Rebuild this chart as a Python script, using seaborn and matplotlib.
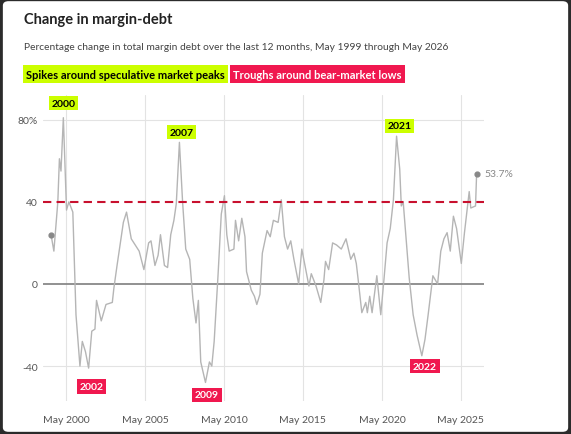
import matplotlib
matplotlib.use("Agg")
import matplotlib.pyplot as plt
import seaborn as sns
import pandas as pd
from matplotlib.patches import FancyBboxPatch

sns.set_theme(style="white")
plt.rcParams['font.family'] = ['Lato', 'DejaVu Sans']

years = [1999.42,1999.6,1999.85,1999.95,2000.05,2000.2,2000.4,2000.55,2000.8,2001.0,2001.25,2001.4,2001.6,2001.8,
 2002.0,2002.2,2002.3,2002.6,2002.9,2003.3,2003.4,2003.6,2004.0,2004.2,2004.5,2005.0,2005.3,2005.6,2005.75,2006.0,
 2006.2,2006.35,2006.6,2006.8,2007.0,2007.2,2007.35,2007.55,2007.75,2007.95,2008.2,2008.4,2008.6,2008.75,2008.9,
 2009.2,2009.45,2009.6,2009.75,2010.0,2010.2,2010.4,2010.55,2010.7,2011.0,2011.1,2011.3,2011.5,2011.7,2011.8,
 2012.1,2012.3,2012.45,2012.65,2012.8,2013.1,2013.3,2013.5,2013.8,2014.0,2014.2,2014.4,2014.6,2014.8,2015.1,
 2015.3,2015.5,2015.75,2015.9,2016.2,2016.5,2016.7,2016.8,2017.0,2017.25,2017.5,2017.8,2018.1,2018.4,2018.6,
 2018.75,2018.9,2019.1,2019.35,2019.45,2019.6,2019.75,2020.05,2020.3,2020.5,2020.7,2020.9,2021.1,2021.3,2021.5,
 2021.6,2021.72,2021.95,2022.1,2022.35,2022.6,2022.9,2023.1,2023.3,2023.6,2023.9,2024.1,2024.3,2024.5,2024.7,
 2024.9,2025.1,2025.4,2025.6,2025.9,2026.0,2026.3,2026.37]
values = [24,16,40,61,55,81,36,40,35,-15,-40,-28,-33,-41,
 -23,-22,-8,-18,-10,-9,-2,9,30,35,22,16,7,20,21,9,
 14,24,9,8,24,31,39,69,40,17,12,-7,-19,-8,-38,
 -48,-38,-40,-28,5,34,43,24,16,17,31,21,32,23,6,
 -3,-6,-10,-5,15,26,23,31,30,41,23,17,21,12,0,
 17,9,-1,5,-1,-9,2,11,7,20,19,17,22,12,15,
 10,0,-14,-9,-14,-6,-14,4,-15,2,20,27,41,72,56,
 38,40,18,3,-15,-25,-35,-27,-15,4,0,16,22,25,16,
 33,27,10,25,45,37,38,53.7]
tick_years = [2000,2005,2010,2015,2020,2025]
tick_labels = ["May 2000","May 2005","May 2010","May 2015","May 2020","May 2025"]
peak_labels = ["2000","2007","2021"]
peak_pos = [(2000.2,88),(2007.7,74),(2021.5,77)]
trough_labels = ["2002","2009","2022"]
trough_pos = [(2002.0,-50),(2009.3,-54),(2023.1,-40)]

df = pd.DataFrame({"year": years, "value": values})

fig = plt.figure(figsize=(5.71,4.35), dpi=100)
fig.patch.set_facecolor("#2b2b2b")
card = FancyBboxPatch((0.005,0.005),0.99,0.99, boxstyle="round,pad=0,rounding_size=0.01",
                      transform=fig.transFigure, facecolor="white", edgecolor="none", zorder=-10)
fig.patches.append(card)
ax = fig.add_axes([0.075,0.076,0.773,0.703])
ax.set_facecolor("none")

for t in tick_years:
    ax.axvline(t+0.37, color="#e3e3e3", lw=0.8, zorder=0)
for yv in [80,-40]:
    ax.axhline(yv, color="#e3e3e3", lw=0.8, zorder=0)
ax.axhline(0, color="#888888", lw=1.3, zorder=1)
ax.axhline(40, color="#c8102e", lw=1.5, ls=(0,(4,2.5)), zorder=3)

sns.lineplot(data=df, x="year", y="value", ax=ax, color="#b5b5b5", lw=1, zorder=2)
ax.scatter([years[0],years[-1]],[values[0],values[-1]], s=12, color="#888888", zorder=4)
ax.text(years[-1]+0.5, values[-1], f"{values[-1]}%", fontsize=7.5, color="#888888", va="center")

for lab,(x,y) in zip(peak_labels,peak_pos):
    ax.text(x,y,lab,fontsize=7.5,fontweight="bold",color="black",ha="center",va="center",
            bbox=dict(boxstyle="square,pad=0.25",fc="#ccff00",ec="none"))
for lab,(x,y) in zip(trough_labels,trough_pos):
    ax.text(x,y,lab,fontsize=7.5,fontweight="bold",color="white",ha="center",va="center",
            bbox=dict(boxstyle="square,pad=0.25",fc="#f0184f",ec="none"))

ax.set_xlim(1998.9, 2026.85)
ax.set_ylim(-57, 92)
ax.set_xticks([t+0.37 for t in tick_years])
ax.set_xticklabels(tick_labels)
ax.set_yticks([80,40,0,-40])
ax.set_yticklabels(["80%","40","0","-40"])
ax.tick_params(axis="both", labelsize=7.5, colors="#555555", length=0)
ax.tick_params(axis="x", pad=10)
for s in ax.spines.values():
    s.set_visible(False)
ax.set_xlabel(""); ax.set_ylabel("")

fig.text(0.042,0.955,"Change in margin-debt",fontsize=10.5,fontweight="bold",color="#222222",va="center")
fig.text(0.042,0.89,"Percentage change in total margin debt over the last 12 months, May 1999 through May 2026",
         fontsize=7.4,color="#444444",va="center")
fig.text(0.046,0.827,"Spikes around speculative market peaks",fontsize=8,fontweight="bold",color="black",va="center",
         bbox=dict(boxstyle="square,pad=0.3",fc="#ccff00",ec="none"))
fig.text(0.408,0.827,"Troughs around bear-market lows",fontsize=8,fontweight="bold",color="white",va="center",
         bbox=dict(boxstyle="square,pad=0.3",fc="#f0184f",ec="none"))

fig.savefig("out.png", dpi=100, facecolor=fig.get_facecolor())
